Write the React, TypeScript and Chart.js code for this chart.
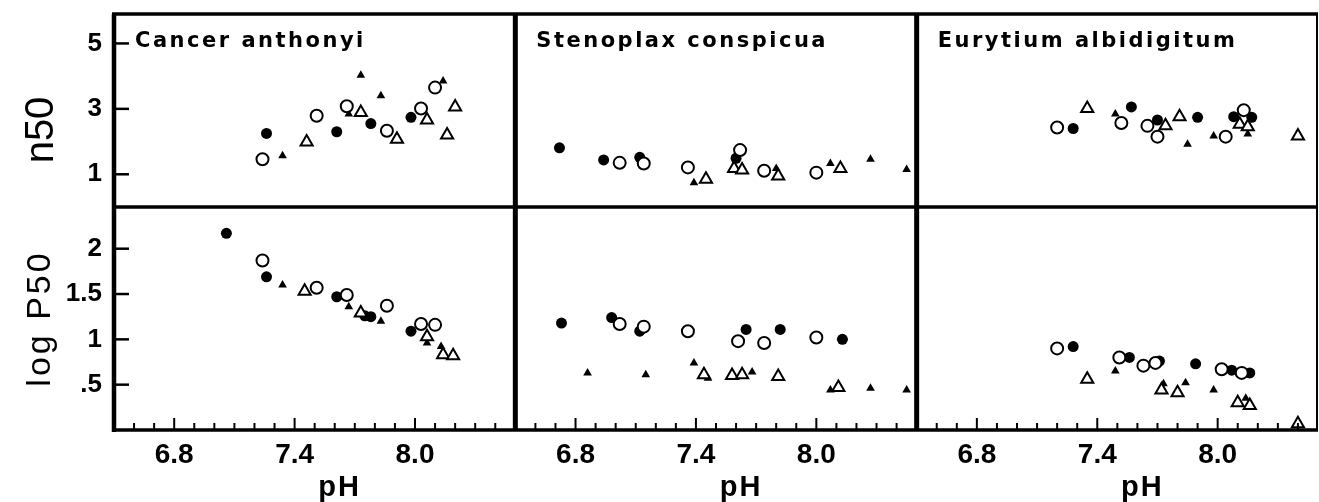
import React, { useEffect, useRef } from 'react';
import { Chart, registerables } from 'chart.js';

Chart.register(...registerables);

// ---------- text / tick data ----------
const SPECIES = ['Cancer anthonyi', 'Stenoplax conspicua', 'Eurytium albidigitum'];
const Y_TITLES = ['n50', 'log P50'];
const X_TITLE = 'pH';
const X_TICKS = [6.6, 6.7, 6.8, 6.9, 7.0, 7.1, 7.2, 7.3, 7.4, 7.5, 7.6, 7.7, 7.8, 7.9, 8.0, 8.1, 8.2, 8.3, 8.4];
const X_TICK_LABELS = ['6.8', '7.4', '8.0'];
const N50_TICKS = [1, 3, 5];
const N50_TICK_LABELS = ['1', '3', '5'];
const LOGP_TICKS = [0.5, 1, 1.5, 2];
const LOGP_TICK_LABELS = ['.5', '1', '1.5', '2'];

// ---------- data: [pH, value] ----------
// Cancer anthonyi, n50
const cancerN50FilledCircles = [[7.26, 2.25], [7.61, 2.30], [7.78, 2.55], [7.98, 2.74]];
const cancerN50OpenCircles = [[7.24, 1.46], [7.51, 2.79], [7.66, 3.08], [7.86, 2.33], [8.03, 3.01], [8.10, 3.65]];
const cancerN50FilledTriangles = [[7.34, 1.57], [7.67, 2.84], [7.73, 4.03], [7.83, 3.40], [8.14, 3.85]];
const cancerN50OpenTriangles = [[7.46, 1.99], [7.73, 2.89], [7.91, 2.07], [8.06, 2.66], [8.16, 2.20], [8.20, 3.06]];
// Stenoplax conspicua, n50
const stenoN50FilledCircles = [[6.72, 1.81], [6.94, 1.44], [7.12, 1.52], [7.60, 1.49]];
const stenoN50OpenCircles = [[7.02, 1.35], [7.14, 1.33], [7.36, 1.21], [7.62, 1.74], [7.74, 1.11], [8.00, 1.05]];
const stenoN50FilledTriangles = [[7.39, 0.74], [7.80, 1.18], [8.07, 1.33], [8.27, 1.46], [8.45, 1.15]];
const stenoN50OpenTriangles = [[7.45, 0.85], [7.59, 1.18], [7.63, 1.13], [7.81, 0.95], [8.12, 1.18]];
// Eurytium albidigitum, n50
const euryN50FilledCircles = [[7.28, 2.40], [7.57, 3.06], [7.70, 2.66], [7.90, 2.74], [8.08, 2.76], [8.17, 2.74]];
const euryN50OpenCircles = [[7.20, 2.43], [7.52, 2.57], [7.65, 2.48], [7.70, 2.15], [8.04, 2.15], [8.13, 2.96]];
const euryN50FilledTriangles = [[7.49, 2.84], [7.85, 1.92], [7.98, 2.17], [8.15, 2.23]];
const euryN50OpenTriangles = [[7.35, 3.01], [7.74, 2.48], [7.81, 2.76], [8.11, 2.53], [8.15, 2.45], [8.40, 2.17]];
// Cancer anthonyi, log P50
const cancerPFilledCircles = [[7.06, 2.17], [7.26, 1.69], [7.61, 1.47], [7.75, 1.26], [7.78, 1.25], [7.98, 1.09]];
const cancerPOpenCircles = [[7.24, 1.87], [7.51, 1.57], [7.66, 1.49], [7.86, 1.37], [8.03, 1.17], [8.10, 1.16]];
const cancerPFilledTriangles = [[7.34, 1.60], [7.67, 1.36], [7.83, 1.20], [8.06, 0.96], [8.13, 0.92]];
const cancerPOpenTriangles = [[7.45, 1.53], [7.73, 1.29], [8.06, 1.03], [8.14, 0.83], [8.19, 0.82]];
// Stenoplax conspicua, log P50
const stenoPFilledCircles = [[6.73, 1.18], [6.98, 1.24], [7.12, 1.09], [7.65, 1.11], [7.82, 1.11], [8.13, 1.00]];
const stenoPOpenCircles = [[7.02, 1.17], [7.14, 1.14], [7.36, 1.09], [7.61, 0.98], [7.74, 0.96], [8.00, 1.02]];
const stenoPFilledTriangles = [[6.86, 0.63], [7.15, 0.61], [7.39, 0.74], [7.46, 0.57], [7.68, 0.64], [8.07, 0.44], [8.27, 0.46], [8.45, 0.44]];
const stenoPOpenTriangles = [[7.44, 0.61], [7.58, 0.60], [7.63, 0.61], [7.81, 0.59], [8.11, 0.47]];
// Eurytium albidigitum, log P50
const euryPFilledCircles = [[7.28, 0.92], [7.56, 0.80], [7.71, 0.76], [7.89, 0.73], [8.07, 0.66], [8.16, 0.63]];
const euryPOpenCircles = [[7.20, 0.90], [7.51, 0.80], [7.63, 0.71], [7.69, 0.74], [8.02, 0.67], [8.12, 0.63]];
const euryPFilledTriangles = [[7.49, 0.65], [7.73, 0.51], [7.84, 0.52], [7.98, 0.44], [8.14, 0.35]];
const euryPOpenTriangles = [[7.35, 0.56], [7.72, 0.44], [7.80, 0.41], [8.10, 0.30], [8.16, 0.27], [8.40, 0.07]];

const PANELS = [
  { x: 'x0', y: 'y0', oc: cancerN50OpenCircles, ot: cancerN50OpenTriangles, fc: cancerN50FilledCircles, ft: cancerN50FilledTriangles },
  { x: 'x1', y: 'y0', oc: stenoN50OpenCircles, ot: stenoN50OpenTriangles, fc: stenoN50FilledCircles, ft: stenoN50FilledTriangles },
  { x: 'x2', y: 'y0', oc: euryN50OpenCircles, ot: euryN50OpenTriangles, fc: euryN50FilledCircles, ft: euryN50FilledTriangles },
  { x: 'x0', y: 'y1', oc: cancerPOpenCircles, ot: cancerPOpenTriangles, fc: cancerPFilledCircles, ft: cancerPFilledTriangles },
  { x: 'x1', y: 'y1', oc: stenoPOpenCircles, ot: stenoPOpenTriangles, fc: stenoPFilledCircles, ft: stenoPFilledTriangles },
  { x: 'x2', y: 'y1', oc: euryPOpenCircles, ot: euryPOpenTriangles, fc: euryPFilledCircles, ft: euryPFilledTriangles },
];

const MARKERS: Record<string, any> = {
  oc: { pointStyle: 'circle', pointRadius: 6, pointBackgroundColor: '#fff', pointBorderColor: '#000', pointBorderWidth: 2 },
  ot: { pointStyle: 'triangle', pointRadius: 7, pointBackgroundColor: '#fff', pointBorderColor: '#000', pointBorderWidth: 2 },
  fc: { pointStyle: 'circle', pointRadius: 5.5, pointBackgroundColor: '#000', pointBorderColor: '#000', pointBorderWidth: 0 },
  ft: { pointStyle: 'triangle', pointRadius: 5, pointBackgroundColor: '#000', pointBorderColor: '#000', pointBorderWidth: 0 },
};
const DRAW_ORDER = ['oc', 'ot', 'fc', 'ft'];

const FONT = '"Liberation Sans", Arial, sans-serif';

function buildDatasets() {
  const ds: any[] = [];
  DRAW_ORDER.forEach((k) => {
    PANELS.forEach((p: any) => {
      ds.push({
        data: p[k].map(([x, y]: number[]) => ({ x, y })),
        xAxisID: p.x,
        yAxisID: p.y,
        showLine: false,
        ...MARKERS[k],
        pointHoverRadius: MARKERS[k].pointRadius,
      });
    });
  });
  return ds;
}

function zeroPad(s: any) {
  s.paddingTop = 0;
  s.paddingBottom = 0;
  s.paddingLeft = 0;
  s.paddingRight = 0;
}

function xScale(i: number) {
  return {
    type: 'linear',
    axis: 'x',
    position: 'bottom',
    stack: 'ph',
    stackWeight: 1,
    weight: i,
    min: 6.5,
    max: 8.5,
    afterBuildTicks: (s: any) => {
      s.ticks = X_TICKS.map((v) => ({ value: v }));
    },
    afterFit: (s: any) => {
      s.height = 72;
      zeroPad(s);
    },
    grid: { display: false, drawTicks: false },
    border: { display: false },
    title: { display: false },
    ticks: {
      autoSkip: false,
      maxRotation: 0,
      minRotation: 0,
      padding: 8,
      color: '#000',
      font: { family: FONT, size: 28, weight: 'bold' },
      callback: (v: number) => {
        const l = X_TICK_LABELS.find((t) => Math.abs(parseFloat(t) - v) < 1e-6);
        return l || '';
      },
    },
  };
}

function yScale(weight: number, stackWeight: number, max: number, ticks: number[], labels: string[]) {
  return {
    type: 'linear',
    axis: 'y',
    position: 'left',
    stack: 'rows',
    stackWeight,
    weight,
    min: 0,
    max,
    afterBuildTicks: (s: any) => {
      s.ticks = ticks.map((v) => ({ value: v }));
    },
    afterFit: (s: any) => {
      s.width = 114;
      zeroPad(s);
    },
    grid: { display: false, drawTicks: false },
    border: { display: false },
    title: { display: false },
    ticks: {
      autoSkip: false,
      padding: 12,
      color: '#000',
      font: { family: FONT, size: 26, weight: 'bold' },
      callback: (_v: number, i: number) => labels[i],
    },
  };
}

const framePlugin = {
  id: 'frame',
  afterDatasetsDraw(chart: any) {
    const ctx = chart.ctx;
    const { left, right, top, bottom } = chart.chartArea;
    const xs = ['x0', 'x1', 'x2'].map((id) => chart.scales[id]);
    const ys = ['y0', 'y1'].map((id) => chart.scales[id]);
    ctx.save();
    ctx.strokeStyle = '#000';
    ctx.lineCap = 'butt';
    const line = (x1: number, y1: number, x2: number, y2: number, w: number) => {
      ctx.lineWidth = w;
      ctx.beginPath();
      ctx.moveTo(x1, y1);
      ctx.lineTo(x2, y2);
      ctx.stroke();
    };
    // inward x ticks
    xs.forEach((s: any) => {
      s.ticks.forEach((t: any) => {
        const px = s.getPixelForValue(t.value);
        const len = t.label ? 12 : 7;
        line(px, bottom, px, bottom - len, 2);
      });
    });
    // inward y ticks
    ys.forEach((s: any) => {
      s.ticks.forEach((t: any) => {
        const py = s.getPixelForValue(t.value);
        line(left, py, left + 15, py, 2.5);
      });
    });
    // frame
    line(left - 2, top, right, top, 3.5);
    line(left, top, left, bottom + 2, 4.5);
    line(left - 2, bottom, right, bottom, 3.5);
    line(right - 1, top, right - 1, bottom, 2);
    line(left, ys[0].bottom, right, ys[0].bottom, 3.5);
    line(xs[0].right, top, xs[0].right, bottom, 5);
    line(xs[1].right, top, xs[1].right, bottom, 5);

    // panel titles
    ctx.fillStyle = '#000';
    ctx.textBaseline = 'alphabetic';
    ctx.textAlign = 'left';
    ctx.font = 'bold 21px "DejaVu Sans", sans-serif';
    (ctx as any).letterSpacing = '2.5px';
    xs.forEach((s: any, i: number) => {
      ctx.fillText(SPECIES[i], s.left + 21, top + 33);
    });

    // x titles
    ctx.font = `bold 29px ${FONT}`;
    (ctx as any).letterSpacing = '2px';
    ctx.textAlign = 'center';
    xs.forEach((s: any) => {
      ctx.fillText(X_TITLE, (s.left + s.right) / 2 + 25, 496);
    });

    // y titles (rotated)
    ctx.textAlign = 'center';
    ctx.save();
    ctx.translate(left - 61, 130);
    ctx.rotate(-Math.PI / 2);
    ctx.font = `40px ${FONT}`;
    (ctx as any).letterSpacing = '0px';
    ctx.fillText(Y_TITLES[0], 0, 0);
    ctx.restore();

    ctx.save();
    ctx.translate(left - 64, (ys[1].top + ys[1].bottom) / 2);
    ctx.rotate(-Math.PI / 2);
    ctx.font = `34px ${FONT}`;
    (ctx as any).letterSpacing = '3px';
    ctx.fillText(Y_TITLES[1], 0, 0);
    ctx.restore();

    ctx.restore();
  },
};

export default function App() {
  const ref = useRef<HTMLCanvasElement>(null);
  useEffect(() => {
    const chart = new Chart(ref.current as HTMLCanvasElement, {
      type: 'scatter',
      data: { datasets: buildDatasets() },
      options: {
        animation: false,
        responsive: false,
        devicePixelRatio: 1,
        events: [],
        layout: { autoPadding: false, padding: { top: 14, right: 1, bottom: 0, left: 0 } },
        plugins: { legend: { display: false }, tooltip: { enabled: false }, title: { display: false } },
        scales: {
          x0: xScale(0),
          x1: xScale(1),
          x2: xScale(2),
          y0: yScale(1, 193, 5.9, N50_TICKS, N50_TICK_LABELS),
          y1: yScale(0, 223, 2.46, LOGP_TICKS, LOGP_TICK_LABELS),
        } as any,
      },
      plugins: [framePlugin],
    } as any);
    return () => chart.destroy();
  }, []);
  return (
    <div style={{ position: 'absolute', left: 0, top: 0, width: 1319, height: 502, background: '#fff' }}>
      <canvas ref={ref} width={1319} height={502} style={{ display: 'block', width: 1319, height: 502 }} />
    </div>
  );
}
